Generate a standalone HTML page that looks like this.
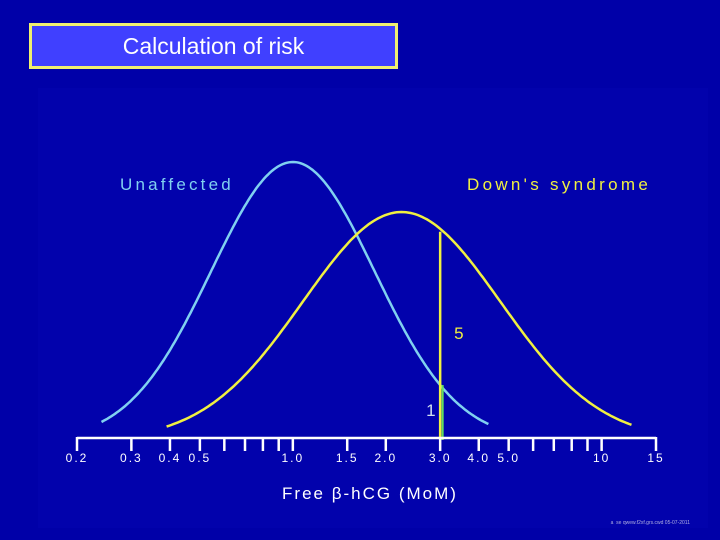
<!DOCTYPE html>
<html><head><meta charset="utf-8"><style>
body{margin:0;background:#0000a8;}
#wrap{position:relative;width:720px;height:540px;background:#0000a8;overflow:hidden;font-family:"Liberation Sans",sans-serif;}
#title{position:absolute;left:29px;top:23px;width:363px;height:40px;background:#4040ff;border:3px solid #f0f070;color:#fff;font-size:23px;text-align:center;line-height:40px;box-sizing:content-box;}
</style></head><body>
<div id="wrap">
<div id="title">Calculation of risk</div>
<svg id="chart" width="720" height="540" style="position:absolute;left:0;top:0">
<rect x="38" y="88" width="670" height="440" fill="#0202ac"/>
</svg>
</div>
<script>
const tickValues=[0.2,0.3,0.4,0.5,0.6,0.7,0.8,0.9,1.0,1.5,2.0,3.0,4.0,5.0,6,7,8,9,10,15];
const tickLabels=["0.2","0.3","0.4","0.5","","","","","1.0","1.5","2.0","3.0","4.0","5.0","","","","","10","15"];
const seriesNames=["Unaffected","Down's syndrome"];
const seriesMedians=[1.0,2.25];
const seriesLogSD=[0.265,0.32];
const seriesPeaks=[1.0,0.82];
const seriesRanges=[[0.24,4.3],[0.39,12.5]];
const cutoffValue=3.0;
const ratioLabels=["5","1"];

const NS="http://www.w3.org/2000/svg";
const svg=document.getElementById('chart');
const x0=77,x1=656,vmin=0.2,vmax=15,baseY=440,topY=162;
function xs(v){return x0+(Math.log10(v)-Math.log10(vmin))/(Math.log10(vmax)-Math.log10(vmin))*(x1-x0);}
function ys(d){return baseY-d*(baseY-topY);}
function dens(i,v){const z=(Math.log10(v)-Math.log10(seriesMedians[i]))/seriesLogSD[i];return seriesPeaks[i]*Math.exp(-z*z/2);}
function mk(tag,attrs){const e=document.createElementNS(NS,tag);for(const k in attrs)e.setAttribute(k,attrs[k]);svg.appendChild(e);return e;}

const colors=["#80d0f0","#f0f040"];
for(let i=0;i<2;i++){
  let d="";const [a,b]=seriesRanges[i];
  for(let k=0;k<=200;k++){const v=Math.pow(10,Math.log10(a)+(Math.log10(b)-Math.log10(a))*k/200);d+=(k?"L":"M")+xs(v).toFixed(1)+","+ys(dens(i,v)).toFixed(1);}
  const p=mk('path',{d:d,fill:'none',stroke:colors[i],'stroke-width':2.5});
  
  
}
const cx=xs(cutoffValue);
const cl=mk('line',{x1:cx,y1:ys(dens(1,cutoffValue))+3,x2:cx,y2:baseY,stroke:'#f0f040','stroke-width':2.5});


const cl2=mk('line',{x1:cx+2.5,y1:ys(dens(0,cutoffValue)),x2:cx+2.5,y2:baseY,stroke:'#60e060','stroke-width':2});


const r1=mk('text',{x:cx+14,y:339,fill:'#f0f040','font-size':17,'font-family':'Liberation Sans, sans-serif'});r1.textContent=ratioLabels[0];


const r2=mk('text',{x:cx-14,y:416,fill:'#d0e0f0','font-size':17,'font-family':'Liberation Sans, sans-serif'});r2.textContent=ratioLabels[1];


const l1=mk('text',{x:120,y:190,fill:'#80d0f0','font-size':17,'letter-spacing':'3.2','font-family':'Liberation Sans, sans-serif'});l1.textContent=seriesNames[0];


const l2=mk('text',{x:467,y:190,fill:'#f0f040','font-size':17,'letter-spacing':'3.3','font-family':'Liberation Sans, sans-serif'});l2.textContent=seriesNames[1];


const ax=mk('line',{x1:x0,y1:438,x2:x1,y2:438,stroke:'#fff','stroke-width':2.5});


tickValues.forEach((v,i)=>{
  const t=mk('line',{x1:xs(v),y1:437,x2:xs(v),y2:451,stroke:'#fff','stroke-width':2.5});
  
  
  if(tickLabels[i]){
    const tx=mk('text',{x:xs(v),y:462,fill:'#fff','font-size':12,'text-anchor':'middle','letter-spacing':'2','font-family':'Liberation Sans, sans-serif'});tx.textContent=tickLabels[i];
    
    
  }
});
const xt=mk('text',{x:370,y:499,fill:'#fff','font-size':17,'text-anchor':'middle','letter-spacing':'2','font-family':'Liberation Sans, DejaVu Sans, sans-serif'});xt.textContent="Free β-hCG (MoM)";


const ft=mk('text',{x:690,y:524,fill:'#b0b0e0','font-size':5,'text-anchor':'end','font-family':'Liberation Sans, sans-serif'});ft.textContent="a\u00a0 se qwew.f2xf.grs.cwd 05-07-2011";


</script>
</body></html>
